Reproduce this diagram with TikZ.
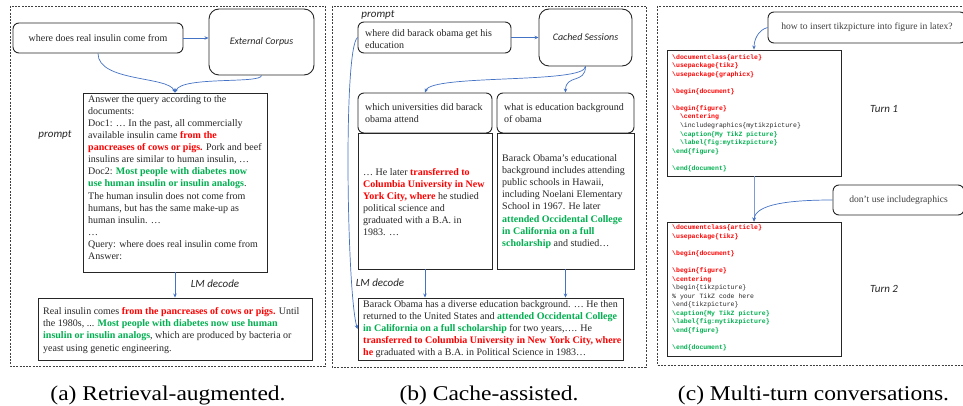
\documentclass[tikz,border=0pt]{standalone}
\usepackage{fontspec}
\setmainfont{Liberation Serif}
\newfontfamily\calfont{Carlito}
\newfontfamily\monofont{Liberation Mono}
\usetikzlibrary{arrows.meta}
\definecolor{myred}{HTML}{FF0000}
\definecolor{mygreen}{HTML}{00B050}
\definecolor{arrblue}{HTML}{4472C4}
\definecolor{ink}{HTML}{262626}
\definecolor{qgray}{HTML}{404040}
\newcommand\myR[1]{\textcolor{myred}{\bfseries #1}}
\newcommand\myG[1]{\textcolor{mygreen}{\bfseries #1}}
\newcommand\mybs{\textbackslash}
\newcommand\cR[1]{\textcolor{myred}{\bfseries #1}}
\newcommand\cG[1]{\textcolor{mygreen}{\bfseries #1}}
\newcommand\cK[1]{\textcolor{ink}{#1}}
\newcommand\ind{\hspace*{7.8pt}}
\begin{document}
\begin{tikzpicture}[x=1pt,y=-1pt,
 frame/.style={draw=black!75, line width=0.8pt, dash pattern=on 2pt off 1.3pt},
 rbox/.style={draw=ink, line width=0.9pt, rounded corners=6pt, inner sep=0pt, fill=white},
 rbbox/.style={draw=ink, line width=0.9pt, rounded corners=10pt, inner sep=0pt, fill=white},
 sbox/.style={draw=ink, line width=0.9pt, inner sep=0pt},
 body/.style={inner sep=0pt, align=left, anchor=west, text=ink, font=\fontsize{10}{12.1}\selectfont},
 code/.style={inner sep=0pt, align=left, anchor=west, font=\monofont\fontsize{6.5}{8.55}\selectfont},
 lab/.style={inner sep=0pt, font=\calfont\itshape\fontsize{11}{13}\selectfont, text=ink},
 link/.style={draw=arrblue, line width=0.7pt, -{Stealth[length=4pt,width=3.5pt]}},
 captext/.style={inner sep=0pt, font=\fontsize{21}{23}\selectfont}
]
\useasboundingbox (0,0) rectangle (963,406);
\fill[white] (0,0) rectangle (963,406);

% frames
\draw[frame] (10,6) rectangle (325,366);
\draw[frame] (332,6) rectangle (646,367);
\draw[frame] (657,6) rectangle (970,365);

% ---------- panel (a)
\node[rbox, minimum width=170pt, minimum height=30pt, text=ink, font=\fontsize{10}{12}\selectfont] (qa) at (98,38) {where does real insulin come from};
\node[rbbox, minimum width=105pt, minimum height=66pt, font=\calfont\itshape\fontsize{10}{12}\selectfont, text=ink] (ec) at (261.5,42) {External Corpus};
\node[sbox, minimum width=184pt, minimum height=179pt] (pa) at (175,182.5) {};
\node[body] (pat) at (88,177.5) {Answer the query according to the\\
documents:\\
Doc1: … In the past, all commercially\\
available insulin came \myR{from the}\\
\myR{pancreases of cows or pigs.} Pork and beef\\
insulins are similar to human insulin, …\\
Doc2: \myG{Most people with diabetes now}\\
\myG{use human insulin or insulin analogs}.\\
The human insulin does not come from\\
humans, but has the same make-up as\\
human insulin. …\\
…\\
Query: where does real insulin come from\\
Answer:};
\node[lab] (pra) at (55,135) {prompt};
\node[sbox, minimum width=274pt, minimum height=62pt] (aa) at (175,329) {};
\node[body] (aat) at (43,330.5) {Real insulin comes \myR{from the pancreases of cows or pigs.} Until\\
the 1980s, ... \myG{Most people with diabetes now use human}\\
\myG{insulin or insulin analogs}, which are produced by bacteria or\\
yeast using genetic engineering.};
\node[lab] (lma) at (215,284) {LM decode};

\draw[link] (qa.east) -- (ec.west |- qa.east);
\draw[link] (qa.south) .. controls (98,82) and (168,76) .. (pa.north);
\draw[link] (ec.south) .. controls (261.5,84) and (182,76) .. (pa.north);
\draw[link] (pa.south) -- (aa.north);

% ---------- panel (b)
\node[lab] (prb) at (378,15) {prompt};
\node[rbox, minimum width=153pt, minimum height=31pt] (qb) at (434.5,37.5) {};
\node[body] (qbt) at (365,39) {where did barack obama get his\\education};
\node[rbbox, minimum width=93pt, minimum height=57pt, font=\calfont\itshape\fontsize{10}{12}\selectfont, text=ink] (cs) at (585.5,37.5) {Cached Sessions};
\node[sbox, minimum width=134pt, minimum height=136pt] (ld) at (425,201) {};
\node[sbox, minimum width=137pt, minimum height=136pt] (rd) at (565.5,201) {};
\node[rbox, minimum width=134pt, minimum height=40pt] (lq) at (425,113) {};
\node[rbox, minimum width=137pt, minimum height=40pt] (rq) at (565.5,113) {};
\node[body] (lqt) at (365,113.5) {which universities did barack\\obama attend};
\node[body] (rqt) at (504,113.5) {what is education background\\of obama};
\node[body] (ldt) at (363,202) {… He later \myR{transferred to}\\
\myR{Columbia University in New}\\
\myR{York City, where} he studied\\
political science and\\
graduated with a B.A. in\\
1983. …};
\node[body] (rdt) at (502,201.5) {Barack Obama's educational\\
background includes attending\\
public schools in Hawaii,\\
including Noelani Elementary\\
School in 1967. He later\\
\myG{attended Occidental College}\\
\myG{in California on a full}\\
\myG{scholarship} and studied…};
\node[sbox, minimum width=265pt, minimum height=62pt] (ab) at (490.5,329) {};
\node[body] (abt) at (363,329) {Barack Obama has a diverse education background. … He then\\
returned to the United States and \myG{attended Occidental College}\\
\myG{in California on a full scholarship} for two years,…. He\\
\myR{transferred to Columbia University in New York City, where}\\
\myR{he} graduated with a B.A. in Political Science in 1983…};
\node[lab] (lmb) at (380,283) {LM decode};

\draw[link] (qb.east) -- (cs.west |- qb.east);
\draw[link] (cs.south) .. controls (585.5,84) and (432,74) .. (lq.north);
\draw[link] (cs.south) .. controls (585.5,84) and (565.5,74) .. (rq.north);
\draw[link] (ld.south) -- (ld.south |- ab.north);
\draw[link] (rd.south) -- (rd.south |- ab.north);
\draw[link] (qb.west) .. controls (343,48) and (347,295) .. (ab.west);

% ---------- panel (c)
\node[rbox, minimum width=198pt, minimum height=31pt, text=qgray, font=\fontsize{9.6}{11}\selectfont] (q1) at (867,27.5) {how to insert tikzpicture into figure in latex?};
\node[sbox, minimum width=174pt, minimum height=126pt] (c1) at (754,113) {};
\node[code] (c1t) at (672,113) {\cR{\mybs documentclass\{article\}}\\
\cR{\mybs usepackage\{tikz\}}\\
\cR{\mybs usepackage\{graphicx\}}\\
~\\
\cR{\mybs begin\{document\}}\\
~\\
\cR{\mybs begin\{figure\}}\\
\ind\cR{\mybs centering}\\
\ind\cK{\mybs includegraphics\{mytikzpicture\}}\\
\ind\cG{\mybs caption\{My TikZ picture\}}\\
\ind\cG{\mybs label\{fig:mytikzpicture\}}\\
\cG{\mybs end\{figure\}}\\
~\\
\cG{\mybs end\{document\}}};
\node[lab] (t1) at (884,109) {Turn 1};

\node[rbox, minimum width=131pt, minimum height=30pt, text=qgray, font=\fontsize{9.6}{11}\selectfont] (q2) at (898.5,200) {don’t use includegraphics};
\node[sbox, minimum width=174pt, minimum height=134pt] (c2) at (754,289) {};
\node[code] (c2t) at (672,288) {\cR{\mybs documentclass\{article\}}\\
\cR{\mybs usepackage\{tikz\}}\\
~\\
\cR{\mybs begin\{document\}}\\
~\\
\cR{\mybs begin\{figure\}}\\
\cR{\mybs centering}\\
\cK{\mybs begin\{tikzpicture\}}\\
\cK{\% your TikZ code here}\\
\cK{\mybs end\{tikzpicture\}}\\
\cG{\mybs caption\{My TikZ picture\}}\\
\cG{\mybs label\{fig:mytikzpicture\}}\\
\cG{\mybs end\{figure\}}\\
~\\
\cG{\mybs end\{document\}}};
\node[lab] (t2) at (884,289) {Turn 2};

\draw[link] (q1.west) .. controls (758,30) and (754,40) .. (c1.north);
\draw[link, line width=1pt, draw=arrblue!70] (c1.south) -- (c2.north);
\draw[link] (q2.west) .. controls (790,200) and (755,204) .. (c2.north);

% ---------- captions
\node[captext] (capa) at (168,395) {\scalebox{1.12}[1]{(a) Retrieval-augmented.}};
\node[captext] (capb) at (489,395) {\scalebox{1.12}[1]{(b) Cache-assisted.}};
\node[captext] (capc) at (813.5,395) {\scalebox{1.12}[1]{(c) Multi-turn conversations.}};
\end{tikzpicture}
\end{document}
